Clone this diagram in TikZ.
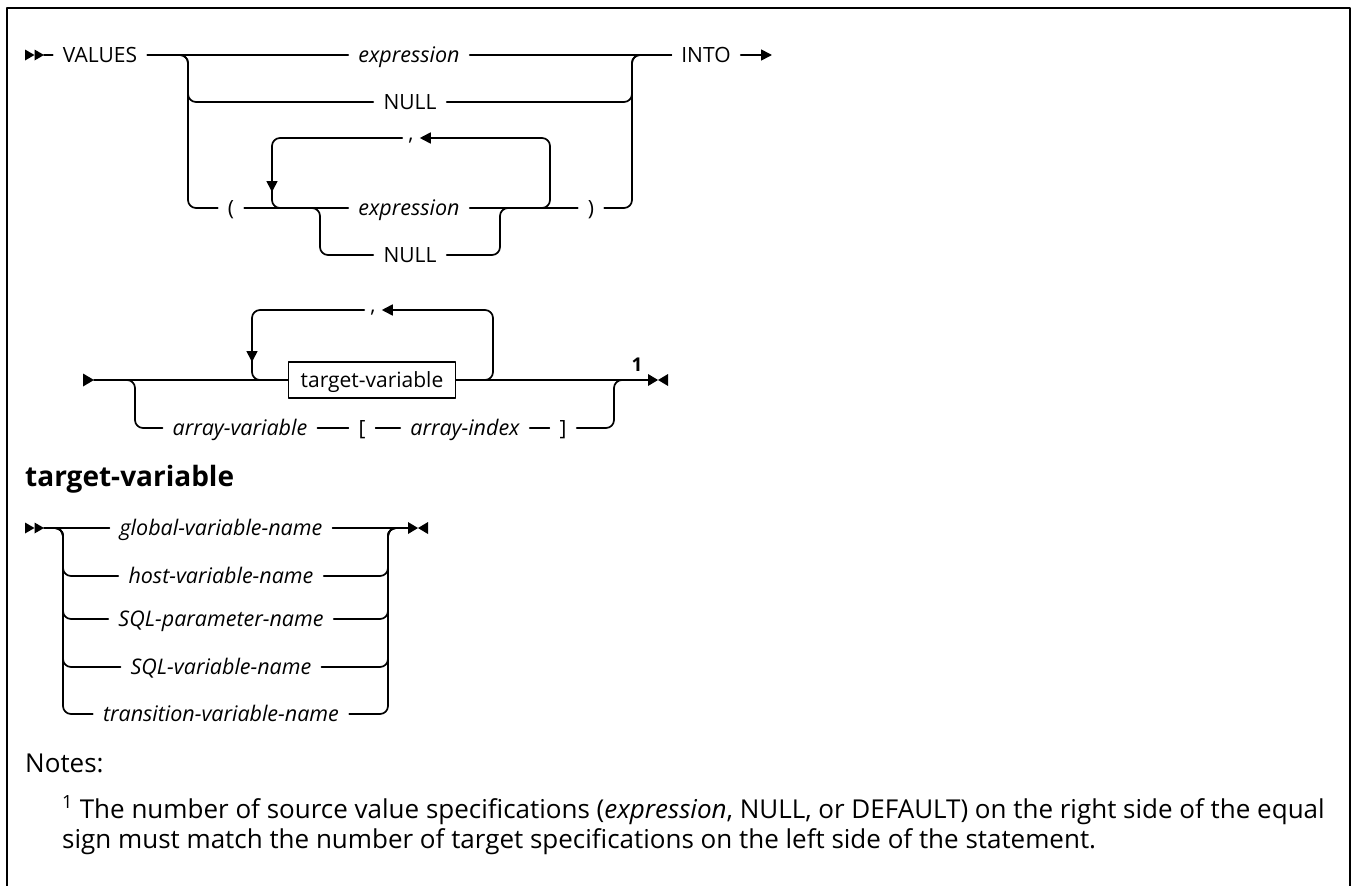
\documentclass[tikz,border=0pt]{standalone}
\usepackage{fontspec}
\setmainfont{Open Sans}
\usetikzlibrary{arrows.meta}

\begin{document}
\begin{tikzpicture}[x=1pt, y=-1pt, line cap=round, line join=round,
    >={Triangle[length=11pt, width=11pt]},
    rail/.style={line width=1.7pt, rounded corners=8pt},
    kw/.style={font=\fontsize{21}{24}\selectfont, text height=15pt, text depth=0pt, inner xsep=10pt, inner ysep=2pt},
    var/.style={kw, font=\fontsize{21.5}{24}\selectfont\itshape},
    punct/.style={kw, text height=2pt, text depth=4pt, inner xsep=6pt, inner ysep=0pt, anchor=north},
    boxed/.style={kw, draw, line width=1.3pt, inner xsep=12pt, inner ysep=10.5pt},
    head/.style={font=\fontsize{28}{32}\selectfont\bfseries, inner sep=0pt},
    notetext/.style={font=\fontsize{26}{30}\selectfont, inner sep=0pt},
    pics/dblstart/.style={code={
      \fill (0,-5.5) -- (9.5,0) -- (0,5.5) -- cycle;
      \fill (9.5,-5.5) -- (19,0) -- (9.5,5.5) -- cycle;}},
    pics/contstart/.style={code={
      \fill (0,-6.5) -- (11,0) -- (0,6.5) -- cycle;}},
    pics/endmark/.style={code={
      \fill (0,-6) -- (10,0) -- (0,6) -- cycle;
      \fill (20,-6) -- (10,0) -- (20,6) -- cycle;}}]
  \useasboundingbox (0,0) rectangle (1353,886);

  % frame
  \draw[line width=2.4pt] (7,890) -- (7,8) -- (1350,8) -- (1350,890);

  % VALUES ... INTO
  \pic at (25,55) {dblstart};
  \coordinate (s1) at (44,55);
  \node[kw] (values) at (100,55) {VALUES};
  \node[var] (expr1) at (409,55) {expression};
  \node[kw] (null1) at (410,102) {NULL};
  \node[kw] (lpar) at (231,208) {(};
  \node[var] (expr2) at (409,208) {expression};
  \node[kw] (null2) at (410,255) {NULL};
  \node[kw] (rpar) at (591,208) {)};
  \node[punct] (comma1) at (411,138) {,};
  \node[kw] (into) at (706,55) {INTO};
  \coordinate (sp1) at (180,55);
  \coordinate (e1) at (772,55);

  \draw[rail] (s1) -- (values.west);
  \draw[rail] (values.east) -- (expr1.west);
  \draw[rail] (sp1) -| (188,102) -- (null1.west);
  \draw[rail] (sp1) -| (188,208) -- (lpar.west);
  \draw[rail] (expr1.east) -- (into.west);
  \draw[rail] (null1.east) -| (632,55) -- (into.west);
  \draw[rail] (rpar.east) -| (632,55) -- (into.west);
  \draw[rail, ->] (into.east) -- (e1);

  \draw[rail] (lpar.east) -- (expr2.west);
  \draw[rail] (expr2.east) -- (rpar.west);
  \draw[rail] (311,208) -| (320,255) -- (null2.west);
  \draw[rail] (null2.east) -| (500,208) -- (509,208);
  \draw[rail, ->] (541,208) -| (550,138) -- (comma1.north east);
  \draw[rail, ->] (comma1.north west) -| (272,192);
  \draw[rail] (272,184) |- (282,208);

  % target-variable list
  \pic at (83,380) {contstart};
  \coordinate (s2) at (94,380);
  \node[boxed] (tv) at (372,380) {target-variable};
  \node[punct] (comma2) at (373,310) {,};
  \node[var] (arrvar) at (240,428) {array-variable};
  \node[kw] (lbr) at (362,428) {[};
  \node[var] (aidx) at (465,428) {array-index};
  \node[kw] (rbr) at (563,428) {]};
  \node[font=\fontsize{19}{22}\selectfont\bfseries, inner sep=0pt] (fn1) at (637,365) {1};
  \coordinate (e2) at (648,380);

  \draw[rail] (s2) -- (tv.west);
  \draw[rail] (125,380) -| (135,428) -- (arrvar.west);
  \draw[rail] (arrvar.east) -- (lbr.west);
  \draw[rail] (lbr.east) -- (aidx.west);
  \draw[rail] (aidx.east) -- (rbr.west);
  \draw[rail] (rbr.east) -| (614,380) -- (623,380);
  \draw[rail] (tv.east) -- (e2);
  \draw[rail, ->] (484,380) -| (493,310) -- (comma2.north east);
  \draw[rail, ->] (comma2.north west) -| (252,362);
  \draw[rail] (252,354) |- (262,380);
  \pic at (648,380) {endmark};

  % target-variable
  \node[head, anchor=west] (tvhead) at (25,479) {target-variable};
  \pic at (25,528) {dblstart};
  \coordinate (s3) at (44,528);
  \coordinate (sp3) at (55,528);
  \coordinate (e3) at (408,528);
  \node[var] (gvn) at (221,528) {global-variable-name};
  \node[var] (hvn) at (221,576) {host-variable-name};
  \node[var] (spn) at (221,619) {SQL-parameter-name};
  \node[var] (svn) at (221,667) {SQL-variable-name};
  \node[var] (trn) at (221,714) {transition-variable-name};

  \draw[rail] (s3) -- (gvn.west);
  \draw[rail] (gvn.east) -- (e3);
  \draw[rail] (sp3) -| (63,576) -- (hvn.west);
  \draw[rail] (sp3) -| (63,619) -- (spn.west);
  \draw[rail] (sp3) -| (63,667) -- (svn.west);
  \draw[rail] (sp3) -| (63,714) -- (trn.west);
  \draw[rail] (hvn.east) -| (388,528) -- (397,528);
  \draw[rail] (spn.east) -| (388,528) -- (397,528);
  \draw[rail] (svn.east) -| (388,528) -- (397,528);
  \draw[rail] (trn.east) -| (388,528) -- (397,528);
  \pic at (408,528) {endmark};

  % notes
  \node[notetext, anchor=base west] (notes) at (25,772) {Notes:};
  \node[notetext, anchor=base west] (note1a) at (62,818)
    {\textsuperscript{1} The number of source value specifications (\textit{expression}, NULL, or DEFAULT) on the right side of the equal};
  \node[notetext, anchor=base west] (note1b) at (62,848)
    {sign must match the number of target specifications on the left side of the statement.};
\end{tikzpicture}
\end{document}
